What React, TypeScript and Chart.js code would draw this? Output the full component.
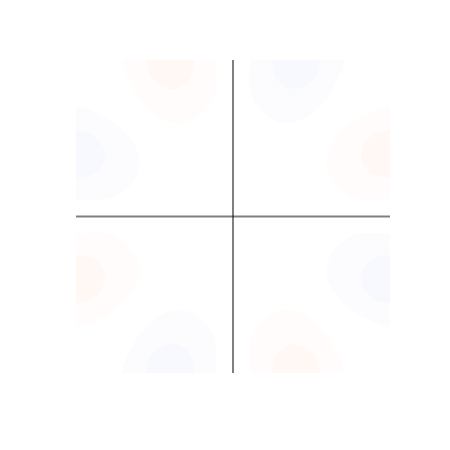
import React, { useEffect, useRef } from "react";
import { Chart, registerables } from "chart.js";

Chart.register(...registerables);

// Measured contour boundary of one lobe (top-right, 67.5°), data units, axis range [-1, 1]
const LOBE_OUTER: [number, number][] = [
  [0.108, 1.2], [0.108, 0.997], [0.111, 0.799], [0.166, 0.691], [0.236, 0.627],
  [0.325, 0.596], [0.414, 0.608], [0.503, 0.659], [0.592, 0.748], [0.662, 0.869],
  [0.707, 0.984], [0.74, 1.2],
];
const LOBE_INNER: [number, number][] = [
  [0.248, 1.2], [0.248, 0.997], [0.268, 0.895], [0.318, 0.838], [0.382, 0.815],
  [0.452, 0.831], [0.51, 0.876], [0.541, 0.933], [0.551, 0.997], [0.554, 1.2],
];
// Eight lobes, alternating sign (symmetry of the field)
const LOBE_SWAP = [false, false, true, true, false, false, true, true];
const LOBE_SX = [1, -1, 1, 1, 1, -1, -1, -1];
const LOBE_SY = [1, 1, 1, -1, -1, -1, -1, 1];
const LOBE_SIGN = [-1, 1, 1, -1, 1, -1, 1, -1];

const POS_COLORS = ["#fffcfb", "#fff8f5"];
const NEG_COLORS = ["#fcfcff", "#f8f8ff"];
const AXIS_COLOR = "rgba(0,0,0,0.5)";

function place(pts: [number, number][], i: number) {
  return pts.map(([x, y]) =>
    LOBE_SWAP[i] ? { x: LOBE_SX[i] * y, y: LOBE_SY[i] * x } : { x: LOBE_SX[i] * x, y: LOBE_SY[i] * y }
  );
}

export default function App() {
  const ref = useRef<HTMLCanvasElement>(null);
  useEffect(() => {
    if (!ref.current) return;
    const datasets: any[] = [];
    datasets.push({
      data: [{ x: -1, y: 0 }, { x: 1, y: 0 }],
      showLine: true, borderColor: AXIS_COLOR, borderWidth: 2, pointRadius: 0, fill: false, order: 0,
    });
    datasets.push({
      data: [{ x: 0, y: -1 }, { x: 0, y: 1 }],
      showLine: true, borderColor: AXIS_COLOR, borderWidth: 2, pointRadius: 0, fill: false, order: 0,
    });
    for (let i = 0; i < 8; i++) {
      const cols = LOBE_SIGN[i] > 0 ? POS_COLORS : NEG_COLORS;
      datasets.push({
        data: place(LOBE_INNER, i), showLine: true, tension: 0.35, borderWidth: 0,
        borderColor: "transparent", backgroundColor: cols[1], pointRadius: 0, fill: "shape", order: 1,
      });
      datasets.push({
        data: place(LOBE_OUTER, i), showLine: true, tension: 0.35, borderWidth: 0,
        borderColor: "transparent", backgroundColor: cols[0], pointRadius: 0, fill: "shape", order: 2,
      });
    }
    const chart = new Chart(ref.current, {
      type: "scatter",
      data: { datasets },
      options: {
        animation: false,
        responsive: false,
        layout: { padding: { left: 76, right: 60, top: 60, bottom: 77 } },
        elements: { line: { capBezierPoints: false } },
        scales: {
          x: { type: "linear", min: -1, max: 1, display: false },
          y: { type: "linear", min: -1, max: 1, display: false },
        },
        plugins: { legend: { display: false }, tooltip: { enabled: false } },
      },
    });
    return () => chart.destroy();
  }, []);
  return (
    <div style={{ position: "absolute", left: 0, top: 0, width: 450, height: 450, background: "#fff" }}>
      <canvas ref={ref} width={450} height={450} style={{ display: "block" }} />
    </div>
  );
}
